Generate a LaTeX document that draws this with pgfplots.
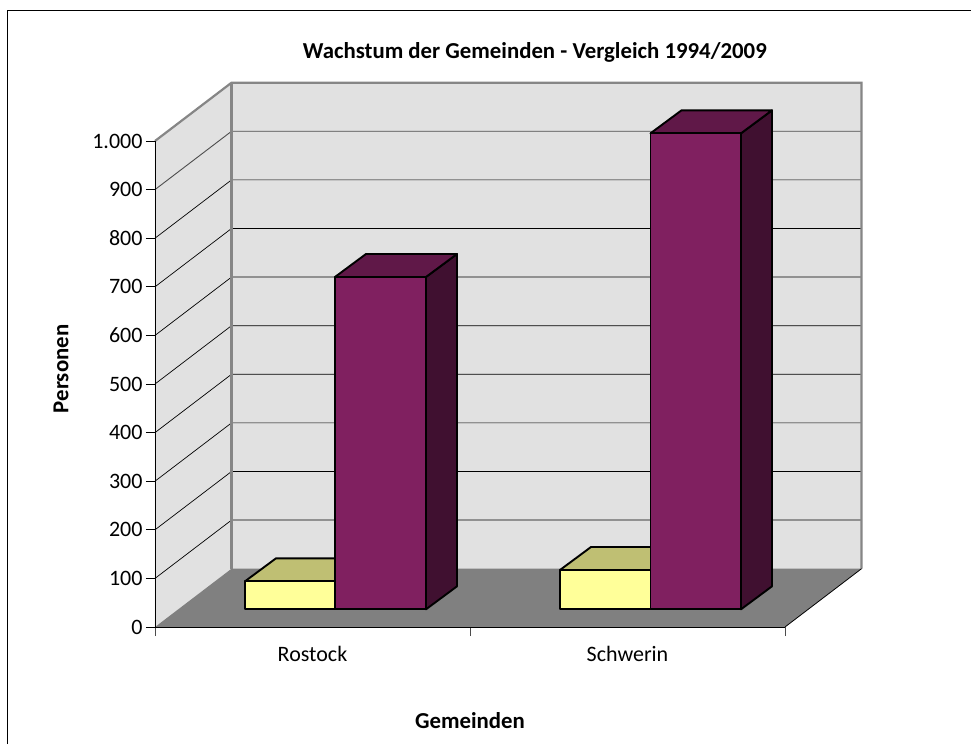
\documentclass[border=0pt]{standalone}
\usepackage{fontspec}
\setmainfont{Carlito}
\usepackage{pgfplots}
\pgfplotsset{compat=1.18}
\definecolor{wallc}{RGB}{225,225,225}
\definecolor{floorc}{RGB}{128,128,128}
\definecolor{framec}{RGB}{134,134,134}
\definecolor{yelf}{RGB}{255,255,153}
\definecolor{yelt}{RGB}{191,191,115}
\definecolor{purf}{RGB}{128,32,96}
\definecolor{purt}{RGB}{96,24,72}
\definecolor{purs}{RGB}{64,16,48}
\begin{document}
\begin{tikzpicture}
\useasboundingbox (-155pt,-117pt) rectangle (816pt,627pt);
\begin{axis}[
  at={(0pt,0pt)},anchor=south west,
  width=630pt,height=486pt,scale only axis,
  xmin=0,xmax=2,ymin=0,ymax=1000,clip=false,axis on top,
  axis x line*=bottom,axis y line*=left,
  axis line style={-,black,line width=0.8pt},
  xtick={0,1,2},x tick label as interval,xticklabels={Rostock,Schwerin},
  ytick={0,100,...,1000},
  tick align=outside,major tick length=9pt,
  tick style={black,line width=0.8pt},
  xtick style={draw=black!70},
  tick label style={font=\fontsize{22}{26}\selectfont,black},
  x tick label style={yshift=-7pt},
  y tick label style={/pgf/number format/.cd,1000 sep={.},assume math mode=true},
  scaled y ticks=false,
  title={\bfseries Wachstum der Gemeinden - Vergleich 1994/2009},
  title style={at={(axis description cs:0.603,1.169)},anchor=center,font=\fontsize{22.8}{26}\selectfont},
  xlabel={\bfseries Gemeinden},
  xlabel style={at={(axis description cs:0.5,-0.193)},anchor=center,font=\fontsize{22.8}{26}\selectfont},
  ylabel={\bfseries Personen},
  ylabel style={at={(axis description cs:-0.149,0.531)},anchor=center,font=\fontsize{22.8}{26}\selectfont},
]
% walls and floor
\addplot[fill=wallc,draw=none] coordinates {(0,0)(0,1000)(0.243,1120)(0.243,120)} -- cycle;
\addplot[fill=wallc,draw=none] coordinates {(0.243,120)(0.243,1120)(2.243,1120)(2.243,120)} -- cycle;
\addplot[fill=floorc,draw=none] coordinates {(0,0)(2,0)(2.243,120)(0.243,120)} -- cycle;
% gridlines
\addplot[black,line width=0.7pt] coordinates {(0,100)(0.243,220)(2.243,220)};
\addplot[black,line width=0.7pt] coordinates {(0,200)(0.243,320)(2.243,320)};
\addplot[black,line width=0.7pt] coordinates {(0,300)(0.243,420)(2.243,420)};
\addplot[black,line width=0.7pt] coordinates {(0,400)(0.243,520)(2.243,520)};
\addplot[black,line width=0.7pt] coordinates {(0,500)(0.243,620)(2.243,620)};
\addplot[black,line width=0.7pt] coordinates {(0,600)(0.243,720)(2.243,720)};
\addplot[black,line width=0.7pt] coordinates {(0,700)(0.243,820)(2.243,820)};
\addplot[black,line width=0.7pt] coordinates {(0,800)(0.243,920)(2.243,920)};
\addplot[black!70,line width=0.9pt] coordinates {(0,900)(0.243,1020)(2.243,1020)};
% frame
\addplot[framec,line width=2.2pt] coordinates {(0,1000)(0.243,1120)(2.243,1120)(2.243,120)};
\addplot[framec,line width=2.4pt] coordinates {(0.243,1120)(0.243,120)};
\addplot[black,line width=0.8pt] coordinates {(2,0)(2.243,120)};
% Rostock 1994
\addplot[fill=yelt,draw=black,line width=1.9pt,line join=round] coordinates {(0.2857,94)(0.5714,94)(0.6698,141.3)(0.3841,141.3)} -- cycle;
\addplot[fill=yelf,draw=black,line width=1.9pt,line join=round] coordinates {(0.2857,36.4)(0.5714,36.4)(0.5714,94)(0.2857,94)} -- cycle;
% Rostock 2009
\addplot[fill=purs,draw=black,line width=1.9pt,line join=round] coordinates {(0.8603,36.4)(0.9587,83.7)(0.9587,767.5)(0.8603,720.2)} -- cycle;
\addplot[fill=purt,draw=black,line width=1.9pt,line join=round] coordinates {(0.5714,720.2)(0.8603,720.2)(0.9587,767.5)(0.6698,767.5)} -- cycle;
\addplot[fill=purf,draw=black,line width=1.9pt,line join=round] coordinates {(0.5714,36.4)(0.8603,36.4)(0.8603,720.2)(0.5714,720.2)} -- cycle;
% Schwerin 1994
\addplot[fill=yelt,draw=black,line width=1.9pt,line join=round] coordinates {(1.2857,117.3)(1.5730,117.3)(1.6714,164.6)(1.3841,164.6)} -- cycle;
\addplot[fill=yelf,draw=black,line width=1.9pt,line join=round] coordinates {(1.2857,36.4)(1.5730,36.4)(1.5730,117.3)(1.2857,117.3)} -- cycle;
% Schwerin 2009
\addplot[fill=purs,draw=black,line width=1.9pt,line join=round] coordinates {(1.8603,36.4)(1.9587,83.7)(1.9587,1063.1)(1.8603,1015.8)} -- cycle;
\addplot[fill=purt,draw=black,line width=1.9pt,line join=round] coordinates {(1.5730,1015.8)(1.8603,1015.8)(1.9587,1063.1)(1.6714,1063.1)} -- cycle;
\addplot[fill=purf,draw=black,line width=1.9pt,line join=round] coordinates {(1.5730,36.4)(1.8603,36.4)(1.8603,1015.8)(1.5730,1015.8)} -- cycle;
\end{axis}
\draw[black,line width=1pt] (-147pt,-117pt) -- (-147pt,616pt) -- (816pt,616pt);
\end{tikzpicture}
\end{document}
